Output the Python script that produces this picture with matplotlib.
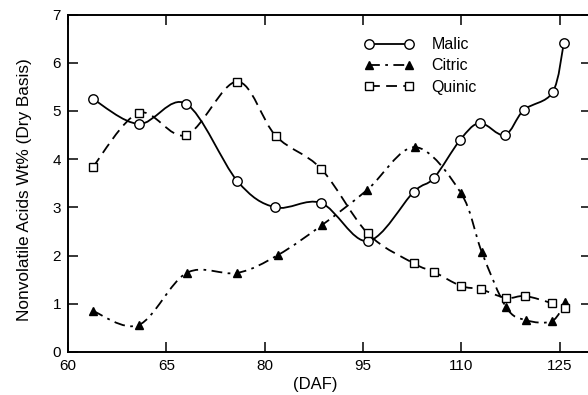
import numpy as np
import matplotlib
matplotlib.use('Agg')
import matplotlib.pyplot as plt
from matplotlib.path import Path
from matplotlib.patches import PathPatch
from matplotlib.lines import Line2D

plt.rcParams['font.family'] = ['Liberation Sans', 'DejaVu Sans']

# DAF values (first tick is printed as "60")
tick_pos = [50, 65, 80, 95, 110, 125]
tick_lab = ['60', '65', '80', '95', '110', '125']

malic_x = [53.8, 60.8, 68.0, 75.8, 81.6, 88.6, 95.7, 102.7, 105.8, 109.8, 112.8, 116.6, 119.5, 123.9, 125.6]
malic_y = [5.25, 4.73, 5.15, 3.55, 3.00, 3.09, 2.30, 3.32, 3.61, 4.40, 4.75, 4.50, 5.02, 5.39, 6.41]

citric_x = [53.8, 60.8, 68.1, 75.8, 82.0, 88.7, 95.6, 102.9, 109.9, 113.1, 116.8, 119.8, 123.8, 125.8]
citric_y = [0.85, 0.56, 1.64, 1.64, 2.01, 2.63, 3.36, 4.25, 3.30, 2.07, 0.93, 0.66, 0.64, 1.04]

quinic_x = [53.8, 60.8, 68.0, 75.8, 81.7, 88.6, 95.7, 102.7, 105.8, 109.9, 112.9, 116.8, 119.7, 123.8, 125.8]
quinic_y = [3.84, 4.96, 4.50, 5.61, 4.48, 3.80, 2.46, 1.84, 1.66, 1.37, 1.30, 1.12, 1.16, 1.01, 0.91]


def smooth_path(x, y):
	# Catmull-Rom curve through the points, written as cubic Bezier pieces
	x = np.asarray(x, float)
	y = np.asarray(y, float)
	verts = [(x[0], y[0])]
	codes = [Path.MOVETO]
	n = len(x)
	for i in range(n - 1):
		i0 = max(i - 1, 0)
		i3 = min(i + 2, n - 1)
		c1 = (x[i] + (x[i + 1] - x[i0]) / 6., y[i] + (y[i + 1] - y[i0]) / 6.)
		c2 = (x[i + 1] - (x[i3] - x[i]) / 6., y[i + 1] - (y[i3] - y[i]) / 6.)
		verts += [c1, c2, (x[i + 1], y[i + 1])]
		codes += [Path.CURVE4] * 3
	return Path(verts, codes)


fig = plt.figure(figsize=(5.88, 3.95), dpi=100)
ax = fig.add_axes([0.1156, 0.109, 0.889, 0.854])

lw = 1.3
styles = [
	(malic_x, malic_y, 'o', '-', 'Malic', 'white', 6.8),
	(citric_x, citric_y, '^', (0, (6, 3, 1.5, 3)), 'Citric', 'black', 6.2),
	(quinic_x, quinic_y, 's', (0, (6, 3.5)), 'Quinic', 'white', 6.2),
]
handles = []
for x, y, m, ls, lab, fc, ms in styles:
	ax.add_patch(PathPatch(smooth_path(x, y), facecolor='none', edgecolor='black', lw=lw, linestyle=ls, zorder=2))
	ax.plot(x, y, linestyle='none', marker=m, markersize=ms, markerfacecolor=fc, markeredgecolor='black', markeredgewidth=1.0, zorder=3)
	handles.append(Line2D([], [], color='black', lw=lw, linestyle=ls, marker=m, markersize=ms, markerfacecolor=fc, markeredgecolor='black', markeredgewidth=1.0))

ax.set_xlim(50, 129.7)
ax.set_ylim(0, 7)
ax.set_xticks(tick_pos)
ax.set_xticklabels(tick_lab)
ax.set_yticks(range(0, 8))
ax.tick_params(direction='in', length=7, width=1.1, labelsize=11, top=True, right=True, pad=5)
for s in ax.spines.values():
	s.set_linewidth(1.4)

ax.set_xlabel('(DAF)', fontsize=12)
ax.xaxis.set_label_coords(0.473, -0.075)
ax.set_ylabel('Nonvolatile Acids Wt% (Dry Basis)', fontsize=12.4)
ax.yaxis.set_label_coords(-0.068, 0.48)

ax.legend(handles=handles, labels=['Malic', 'Citric', 'Quinic'], loc='upper left', bbox_to_anchor=(0.54, 0.975),
	frameon=False, numpoints=2, handlelength=3.1, fontsize=11.5, labelspacing=0.38, handletextpad=1.1)

fig.savefig('out.png', dpi=100)
